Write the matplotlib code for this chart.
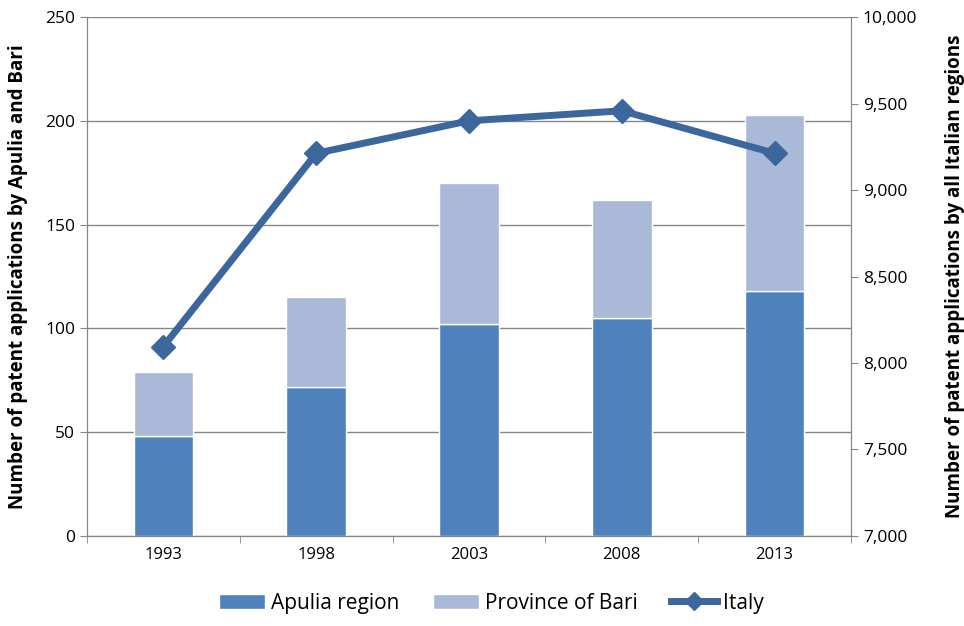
import matplotlib
matplotlib.use("Agg")
import matplotlib.pyplot as plt
import numpy as np
from matplotlib.ticker import FuncFormatter

years = ["1993", "1998", "2003", "2008", "2013"]
apulia = [48, 72, 102, 105, 118]
bari = [31, 43, 68, 57, 85]
italy = [8095, 9212, 9400, 9458, 9212]

plt.rcParams['font.family'] = ['Open Sans', 'DejaVu Sans']

fig = plt.figure(figsize=(9.64, 6.26), dpi=100)
ax = fig.add_axes([0.0902, 0.1438, 0.7926, 0.829])
ax2 = ax.twinx()

x = np.arange(len(years))
w = 0.39
c_ap = '#4F81BD'
c_bari = '#AAB9D7'
c_it = '#3C679C'

ax.bar(x, apulia, w, color=c_ap, edgecolor='white', linewidth=1, zorder=2, label='Apulia region')
ax.bar(x, bari, w, bottom=apulia, color=c_bari, edgecolor='white', linewidth=1, zorder=2, label='Province of Bari')
ax2.plot(x, italy, color=c_it, lw=5, marker='D', markersize=12, zorder=3, label='Italy')

ax.set_xlim(-0.5, len(years) - 0.5)
ax.set_ylim(0, 250)
ax.set_yticks(np.arange(0, 251, 50))
ax2.set_ylim(7000, 10000)
ax2.set_yticks(np.arange(7000, 10001, 500))
ax2.yaxis.set_major_formatter(FuncFormatter(lambda v, p: f"{int(v):,}"))

ax.set_xticks(x)
ax.set_xticklabels(years)
ax.set_xticks(np.arange(-0.5, len(years), 1), minor=True)
ax.tick_params(axis='x', which='major', length=0, labelsize=12, pad=8)
ax.tick_params(axis='x', which='minor', length=5, color='#868686')
ax.tick_params(axis='y', labelsize=12.5, length=5, color='#868686')
ax2.tick_params(axis='y', labelsize=12.5, length=5, color='#868686')

ax.grid(axis='y', color='#868686', lw=1, zorder=0)
ax.set_axisbelow(True)
for a in (ax, ax2):
    a.spines['top'].set_visible(False)
    for s in ('left', 'right', 'bottom'):
        a.spines[s].set_color('#868686')

ax.set_ylabel('Number of patent applications by Apulia and Bari', fontsize=13.5, fontweight='bold', labelpad=12)
ax2.set_ylabel('Number of patent applications by all Italian regions', fontsize=13.5, fontweight='bold', labelpad=20)

h1, l1 = ax.get_legend_handles_labels()
h2, l2 = ax2.get_legend_handles_labels()
fig.legend(h1 + h2, l1 + l2, loc='lower center', bbox_to_anchor=(0.51, -0.01), ncol=3,
           frameon=False, fontsize=15, handlelength=2.2, columnspacing=1.6, handletextpad=0.3,
           markerscale=0.75)

fig.savefig('out.png', dpi=100)
